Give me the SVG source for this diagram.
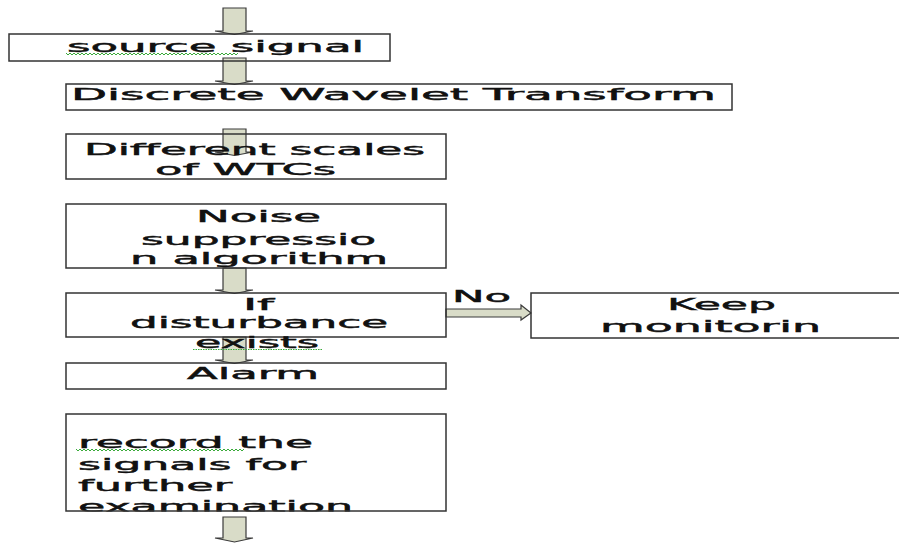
<svg xmlns="http://www.w3.org/2000/svg" width="899" height="543" viewBox="0 0 899 543">
<defs>
<style>
.box{fill:none;stroke:#333;stroke-width:1.5}
.arr{fill:#d9dcc8;stroke:#3a3a3a;stroke-width:1.2;stroke-linejoin:miter}
text{font-family:"DejaVu Sans","Liberation Sans",sans-serif;font-size:16px;fill:#111;stroke:#111;stroke-width:0.45px;}
.sq{fill:none;stroke:#3aaa3a;stroke-width:1}
</style>
<clipPath id="clip7"><rect x="60" y="400" width="400" height="111.5"/></clipPath>
</defs>
<rect width="899" height="543" fill="#fff"/>
<g id="connectors">
<path class="arr" d="M223 8 L246 8 L246 31 L253 31 L234.5 34.5 L215 31 L223 31 Z"/>
<path class="arr" d="M223 58 L246 58 L246 81 L253 81 L234.5 84.5 L215 81 L223 81 Z"/>
<path class="arr" d="M223 129 L246 129 L246 152 L253 152 L234.5 155.5 L215 152 L223 152 Z"/>
<path class="arr" d="M223 268 L246 268 L246 290 L253 290 L234.5 293.5 L215 290 L223 290 Z"/>
<path class="arr" d="M223 337 L246 337 L246 360 L253 360 L234.5 363.5 L215 360 L223 360 Z"/>
<path class="arr" d="M223 517 L246 517 L246 538 L253 538 L234.5 542 L215 538 L223 538 Z"/>
<path class="arr" d="M446 309 L521 309 L521 305 L531 313 L521 320 L521 317 L446 317 Z"/>
<text x="452" y="302" textLength="59" lengthAdjust="spacingAndGlyphs">No</text>
</g>
<g id="n1">
<rect class="box" x="9" y="34" width="381" height="27"/>
<text x="67" y="52" textLength="297" lengthAdjust="spacingAndGlyphs">source signal</text>
<path class="sq" d="M66 53 l2 2 l2 -2 l2 2 l2 -2 l2 2 l2 -2 l2 2 l2 -2 l2 2 l2 -2 l2 2 l2 -2 l2 2 l2 -2 l2 2 l2 -2 l2 2 l2 -2 l2 2 l2 -2 l2 2 l2 -2 l2 2 l2 -2 l2 2 l2 -2 l2 2 l2 -2 l2 2 l2 -2 l2 2 l2 -2 l2 2 l2 -2 l2 2 l2 -2 l2 2 l2 -2 l2 2 l2 -2 l2 2 l2 -2 l2 2 l2 -2 l2 2 l2 -2 l2 2 l2 -2 l2 2 l2 -2 l2 2 l2 -2 l2 2 l2 -2 l2 2 l2 -2 l2 2 l2 -2 l2 2 l2 -2 l2 2 l2 -2 l2 2 l2 -2 l2 2 l2 -2 l2 2 l2 -2 l2 2 l2 -2 l2 2 l2 -2 l2 2 l2 -2 l2 2 l2 -2 l2 2 l2 -2 l2 2 l2 -2 l2 2 l2 -2 l2 2 l2 -2 l2 2 l2 -2"/>
</g>
<g id="n2">
<rect class="box" x="66" y="84" width="666" height="26"/>
<text x="71" y="100" textLength="645" lengthAdjust="spacingAndGlyphs">Discrete Wavelet Transform</text>
</g>
<g id="n3">
<rect class="box" x="66" y="134" width="380" height="45"/>
<text x="84" y="155" textLength="341" lengthAdjust="spacingAndGlyphs">Different scales</text>
<text x="155" y="175" textLength="181" lengthAdjust="spacingAndGlyphs">of WTCs</text>
</g>
<g id="n4">
<rect class="box" x="66" y="204" width="380" height="64"/>
<text x="196" y="222" textLength="125" lengthAdjust="spacingAndGlyphs">Noise</text>
<text x="141" y="245" textLength="235" lengthAdjust="spacingAndGlyphs">suppressio</text>
<text x="130" y="264" textLength="258" lengthAdjust="spacingAndGlyphs">n algorithm</text>
</g>
<g id="n5">
<rect class="box" x="66" y="293" width="380" height="44"/>
<text x="243" y="310" textLength="31" lengthAdjust="spacingAndGlyphs">If</text>
<text x="130" y="328" textLength="258" lengthAdjust="spacingAndGlyphs">disturbance</text>
<text x="195" y="348" textLength="124" lengthAdjust="spacingAndGlyphs">exists</text>
<line x1="193" y1="349.5" x2="323" y2="349.5" stroke="#3aaa3a" stroke-width="1" stroke-dasharray="1.5 1"/>
</g>
<g id="n6">
<rect class="box" x="66" y="363" width="380" height="26"/>
<text x="187" y="379" textLength="132" lengthAdjust="spacingAndGlyphs">Alarm</text>
</g>
<g id="n7">
<g clip-path="url(#clip7)">
<text x="78" y="448" textLength="235" lengthAdjust="spacingAndGlyphs">record the</text>
<text x="78" y="470" textLength="228" lengthAdjust="spacingAndGlyphs">signals for</text>
<text x="78" y="491" textLength="154" lengthAdjust="spacingAndGlyphs">further</text>
<text x="78" y="512" textLength="275" lengthAdjust="spacingAndGlyphs">examination</text>
</g>
<rect class="box" x="66" y="414" width="380" height="97"/>
<path class="sq" d="M76 449 l2 2 l2 -2 l2 2 l2 -2 l2 2 l2 -2 l2 2 l2 -2 l2 2 l2 -2 l2 2 l2 -2 l2 2 l2 -2 l2 2 l2 -2 l2 2 l2 -2 l2 2 l2 -2 l2 2 l2 -2 l2 2 l2 -2 l2 2 l2 -2 l2 2 l2 -2 l2 2 l2 -2 l2 2 l2 -2 l2 2 l2 -2 l2 2 l2 -2 l2 2 l2 -2 l2 2 l2 -2 l2 2 l2 -2 l2 2 l2 -2 l2 2 l2 -2 l2 2 l2 -2 l2 2 l2 -2 l2 2 l2 -2 l2 2 l2 -2 l2 2 l2 -2 l2 2 l2 -2 l2 2 l2 -2 l2 2 l2 -2 l2 2 l2 -2 l2 2 l2 -2 l2 2 l2 -2 l2 2 l2 -2 l2 2 l2 -2 l2 2 l2 -2 l2 2 l2 -2 l2 2 l2 -2 l2 2 l2 -2 l2 2 l2 -2 l2 2 l2 -2"/>
</g>
<g id="n8">
<rect class="box" x="531" y="293" width="380" height="45"/>
<text x="667" y="310" textLength="109" lengthAdjust="spacingAndGlyphs">Keep</text>
<text x="600" y="332" textLength="221" lengthAdjust="spacingAndGlyphs">monitorin</text>
</g>
</svg>
